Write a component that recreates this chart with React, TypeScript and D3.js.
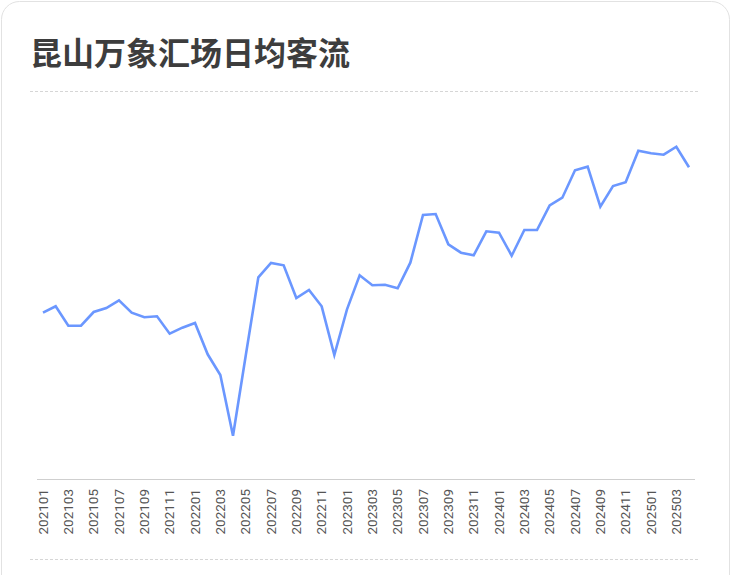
import React from "react";
import * as d3 from "d3";

const TITLE = "昆山万象汇场日均客流";

const months: string[] = [
  "202101","202102","202103","202104","202105","202106","202107","202108","202109","202110","202111","202112",
  "202201","202202","202203","202204","202205","202206","202207","202208","202209","202210","202211","202212",
  "202301","202302","202303","202304","202305","202306","202307","202308","202309","202310","202311","202312",
  "202401","202402","202403","202404","202405","202406","202407","202408","202409","202410","202411","202412",
  "202501","202502","202503","202504",
];

const dailyFlow: number[] = [
  33260, 34540, 30660, 30660, 33400, 34200, 35740, 33260, 32340, 32540, 29060, 30260,
  31200, 24940, 20800, 8660, 24600, 40340, 43200, 42740, 36200, 37800, 34540, 24800,
  33940, 40740, 38740, 38860, 38140, 43260, 52800, 53000, 46940, 45260, 44740, 49540,
  49260, 44660, 49800, 49800, 54740, 56260, 61740, 62460, 54460, 58600, 59340, 65660,
  65140, 64860, 66460, 62340,
];

const tickLabels: string[] = months.filter((_, i) => i % 2 === 0);

const W = 732;
const H = 575;

export default function App() {
  const x = d3.scalePoint<string>().domain(months).range([43, 689]);
  const y = d3.scaleLinear().domain([0, 80000]).range([479, 79]);
  const line = d3
    .line<number>()
    .x((_, i) => x(months[i]) as number)
    .y((d) => y(d));

  return (
    <svg
      width={W}
      height={H}
      style={{ position: "absolute", left: 0, top: 0, display: "block" }}
    >
      <rect x={0} y={0} width={W} height={H} fill="#ffffff" />
      <rect
        x={1.5}
        y={1.5}
        width={728}
        height={H + 40}
        rx={18}
        ry={18}
        fill="#ffffff"
        stroke="#e2e2e2"
        strokeWidth={1}
      />
      <text
        x={30}
        y={65}
        fontFamily="'Noto Sans CJK SC', sans-serif"
        fontSize={32}
        fontWeight={700}
        fill="#3d3d3d"
      >
        {TITLE}
      </text>
      <line x1={30} x2={698} y1={91.5} y2={91.5} stroke="#d6d6d6" strokeDasharray="3,2" />
      <line x1={30} x2={698} y1={559.5} y2={559.5} stroke="#d6d6d6" strokeDasharray="3,2" />
      <line x1={37} x2={695} y1={479.5} y2={479.5} stroke="#cfcfcf" strokeWidth={1} />
      {tickLabels.map((m) => {
        const px = x(m) as number;
        return (
          <text
            key={m}
            transform={`translate(${px + 4.8},489) rotate(-90)`}
            textAnchor="end"
            fontFamily="Roboto, sans-serif"
            fontSize={13.5}
            fill="#555555"
          >
            {m}
          </text>
        );
      })}
      <path
        d={line(dailyFlow) || ""}
        fill="none"
        stroke="#6b97ff"
        strokeWidth={2.6}
        strokeLinejoin="miter"
      />
    </svg>
  );
}
